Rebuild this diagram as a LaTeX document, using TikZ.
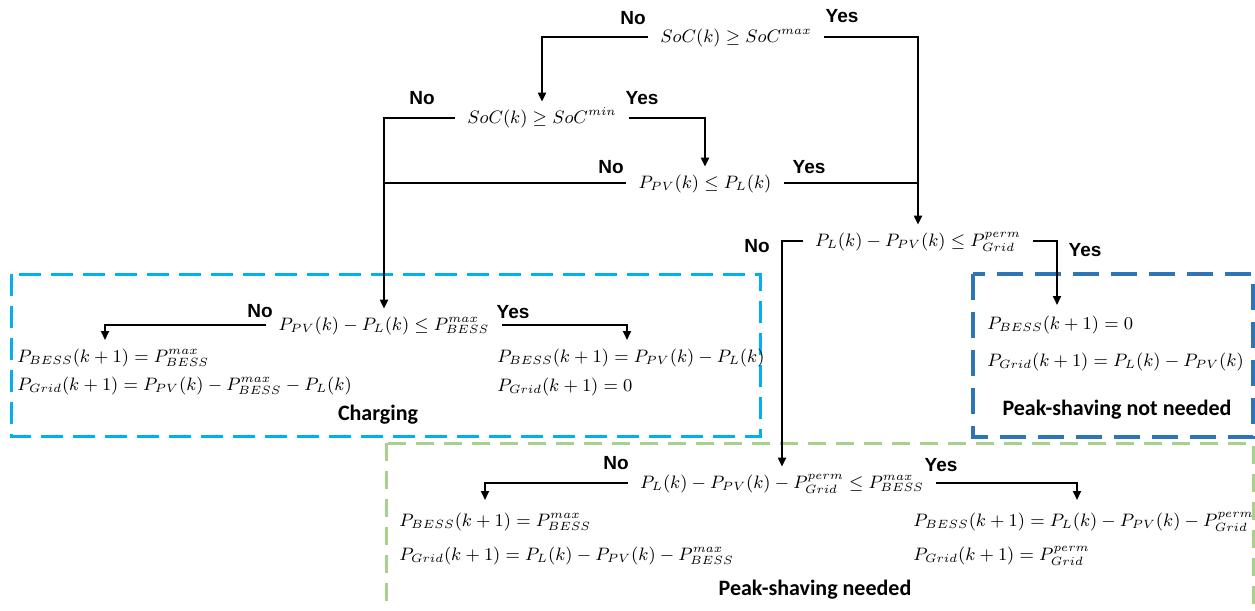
\documentclass[tikz,border=0pt]{standalone}
\usepackage{fontspec}
\newfontfamily\yesnofont{Liberation Sans}
\newfontfamily\titlefont{Carlito}
\usetikzlibrary{arrows.meta}
\definecolor{chargeblue}{HTML}{00B0F0}
\definecolor{nopeakblue}{HTML}{2E75B6}
\definecolor{peakgreen}{HTML}{A9D18E}

\begin{document}
\begin{tikzpicture}[x=0.5pt,y=-0.5pt,
  cond/.style={inner xsep=6pt, inner ysep=2pt, text height=8.5pt, text depth=3.5pt,
               font=\fontsize{8.8}{11}\selectfont},
  res/.style={anchor=west, inner sep=0pt, font=\fontsize{8.8}{11}\selectfont},
  yn/.style={inner sep=0pt, font=\yesnofont\bfseries\fontsize{9.5}{11}\selectfont},
  ttl/.style={inner sep=0pt, font=\titlefont\bfseries\fontsize{11}{13}\selectfont},
  link/.style={line width=1pt},
  flow/.style={line width=1pt, -{Triangle[length=4.5pt,width=4pt]}},
  chargebox/.style={draw=chargeblue, line width=1.5pt, dash pattern=on 11pt off 5pt},
  nopeakbox/.style={draw=nopeakblue, line width=1.6pt, dash pattern=on 13pt off 6pt},
  peakbox/.style={draw=peakgreen, line width=1.5pt, dash pattern=on 9pt off 5pt}]

\useasboundingbox (0,0) rectangle (1255,611);

% --- regions ---
\draw[chargebox] (11,274) rectangle (760,436);
\draw[nopeakbox] (973,274) rectangle (1253,437);
\begin{scope}
  \clip (0,0) rectangle (1255,611);
  \draw[peakbox] (386,443) rectangle (1253,650);
\end{scope}

% --- decisions ---
\node[cond] (n1) at (736,37)  {$SoC(k) \geq SoC^{max}$};
\node[cond] (n2) at (542,118) {$SoC(k) \geq SoC^{min}$};
\node[cond] (n3) at (705,183) {$P_{PV}(k) \leq P_{L}(k)$};
\node[cond] (n4) at (918,241) {$P_{L}(k) - P_{PV}(k) \leq P_{Grid}^{perm}$};
\node[cond] (n5) at (384,325) {$P_{PV}(k) - P_{L}(k) \leq P_{BESS}^{max}$};
\node[cond] (n6) at (782,483) {$P_{L}(k) - P_{PV}(k) - P_{Grid}^{perm} \leq P_{BESS}^{max}$};

% --- arrow ends above the outcomes ---
\coordinate (c5l) at (105,340);
\coordinate (c5r) at (627,340);
\coordinate (c4r) at (1057,305);
\coordinate (c6l) at (485,500);
\coordinate (c6r) at (1077,500);

% --- outcomes ---
\node[res] (chl1) at (17,358)  {$P_{BESS}(k+1) = P_{BESS}^{max}$};
\node[res] (chl2) at (17,386)  {$P_{Grid}(k+1) = P_{PV}(k) - P_{BESS}^{max} - P_{L}(k)$};
\node[res] (chr1) at (497,358) {$P_{BESS}(k+1) = P_{PV}(k) - P_{L}(k)$};
\node[res] (chr2) at (497,387) {$P_{Grid}(k+1) = 0$};
\node[res] (np1)  at (987,325) {$P_{BESS}(k+1) = 0$};
\node[res] (np2)  at (987,362) {$P_{Grid}(k+1) = P_{L}(k) - P_{PV}(k)$};
\node[res] (pl1)  at (399,522) {$P_{BESS}(k+1) = P_{BESS}^{max}$};
\node[res] (pl2)  at (399,556) {$P_{Grid}(k+1) = P_{L}(k) - P_{PV}(k) - P_{BESS}^{max}$};
\node[res] (pr1)  at (913,522) {$P_{BESS}(k+1) = P_{L}(k) - P_{PV}(k) - P_{Grid}^{perm}$};
\node[res] (pr2)  at (913,556) {$P_{Grid}(k+1) = P_{Grid}^{perm}$};

% --- region titles ---
\node[ttl] (tch) at (378,415)  {Charging};
\node[ttl] (tnp) at (1117,410) {Peak-shaving not needed};
\node[ttl] (tpk) at (815,590)  {Peak-shaving needed};

% --- branch labels ---
\node[yn] (no1)  at (633,18)   {No};
\node[yn] (yes1) at (842,16)   {Yes};
\node[yn] (no2)  at (422,98)   {No};
\node[yn] (yes2) at (642,98)   {Yes};
\node[yn] (no3)  at (611,167)  {No};
\node[yn] (yes3) at (809,167)  {Yes};
\node[yn] (no4)  at (757,246)  {No};
\node[yn] (yes4) at (1085,250) {Yes};
\node[yn] (no5)  at (260,311)  {No};
\node[yn] (yes5) at (513,312)  {Yes};
\node[yn] (no6)  at (616,463)  {No};
\node[yn] (yes6) at (941,465)  {Yes};

% --- connectors ---
\draw[flow] (n1.west) -| (n2.north);
\draw[flow] (n1.east) -| (n4.north);
\draw[flow] (n2.east) -| (n3.north);
\draw[flow] (n2.west) -| (n5.north);
\draw[link] (n3.west) -- (n3.west -| n5.north);
\draw[link] (n3.east) -- (n3.east -| n4.north);
\draw[flow] (n4.west) -| (n6.north);
\draw[flow] (n4.east) -| (c4r);
\draw[flow] (n5.west) -| (c5l);
\draw[flow] (n5.east) -| (c5r);
\draw[flow] (n6.west) -| (c6l);
\draw[flow] (n6.east) -| (c6r);
\end{tikzpicture}
\end{document}
